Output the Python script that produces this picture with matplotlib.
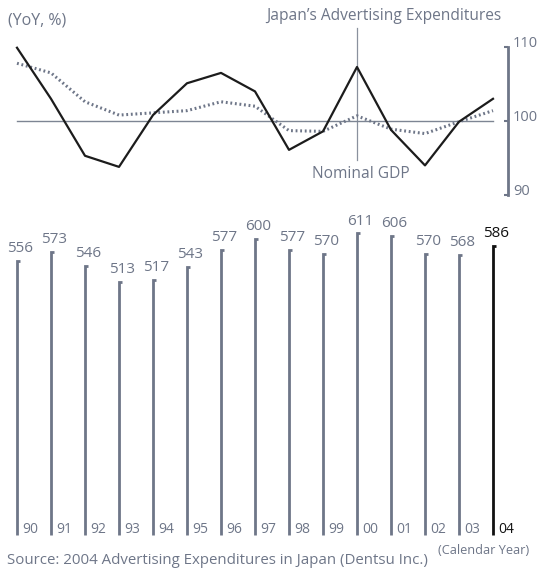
import numpy as np
import matplotlib
matplotlib.use("Agg")
import matplotlib.pyplot as plt

plt.rcParams['font.family'] = ['Open Sans', 'DejaVu Sans']

years = np.arange(1990, 2005)
year_labels = ['90', '91', '92', '93', '94', '95', '96', '97', '98', '99',
               '00', '01', '02', '03', '04']
# advertising expenditures, 100 million yen (x100)
ad_spend = [556, 573, 546, 513, 517, 543, 577, 600, 577, 570,
            611, 606, 570, 568, 586]
# YoY index (previous year = 100)
ad_yoy = [109.9, 103.0, 95.3, 93.8, 100.8, 105.1, 106.5, 104.0, 96.1, 98.6,
          107.3, 98.8, 94.0, 99.9, 103.0]
gdp_yoy = [107.8, 106.5, 102.6, 100.8, 101.1, 101.4, 102.6, 102.0, 98.7, 98.6,
           100.7, 98.9, 98.3, 99.9, 101.4]

grey = '#6e7688'
W, H = 538, 568
fig = plt.figure(figsize=(W / 100, H / 100), dpi=100)

# x scale shared: 1990 at px 17, 34 px per year
x0 = 1990 - 17 / 34
x1 = 1990 + (W - 17) / 34

# ---- top: YoY line chart ----
ax = fig.add_axes([0, 1 - 210 / H, 1, 210 / H])
ax.set_xlim(x0, x1)
ax.set_ylim(100 - 89 / 7.4, 100 + 121 / 7.4)
ax.plot([1990, 2004], [100, 100], color='#7d8593', lw=1.0)
ax.plot(years, gdp_yoy, color=grey, lw=2.2, linestyle=(0, (0.6, 0.9)),
        dash_capstyle='butt')
ax.plot(years, ad_yoy, color='#1c1c1c', lw=1.6)
ax.plot([2000, 2000], [112.6, 94.7], color='#8a919e', lw=0.9, zorder=0)

for s in ['top', 'left', 'bottom']:
    ax.spines[s].set_visible(False)
ax.spines['right'].set_position(('data', 2004.44))
ax.spines['right'].set_bounds(90, 110)
ax.spines['right'].set_color(grey)
ax.spines['right'].set_linewidth(2.0)
ax.set_xticks([])
ax.yaxis.tick_right()
ax.set_yticks([90, 100, 110])
ax.tick_params(axis='y', direction='in', length=3, width=1.5, color=grey,
               labelright=False)
ax.patch.set_alpha(0)
for v in [90, 100, 110]:
    ax.text(2004.59, v - 0.5, str(v), color=grey, fontsize=10.5,
            va='bottom', ha='left')

ax.text(1989.74, 113.0, '(YoY, %)', color=grey, fontsize=11.5, va='baseline')
ax.text(2000.78, 113.6, "Japan\u2019s Advertising Expenditures", color=grey,
        fontsize=11.2, ha='center', va='baseline')
ax.text(2000.12, 92.3, 'Nominal GDP', color=grey, fontsize=11.2,
        ha='center', va='baseline')

# ---- bottom: expenditure bars ----
bx = fig.add_axes([0, 0, 1, (H - 210) / H])
bx.set_xlim(x0, x1)
bx.set_ylim(-33 / 0.4935, 325 / 0.4935)
bx.axis('off')
for i, (yr, v, lab) in enumerate(zip(years, ad_spend, year_labels)):
    c = '#111111' if i == len(years) - 1 else grey
    bx.plot([yr + 0.1, yr, yr], [v, v, 0], color=c, lw=2.0,
            solid_joinstyle='miter', solid_capstyle='butt')
    bx.text(yr + 0.1, v + 10, str(v), color=c, fontsize=11,
            ha='center', va='bottom')
    bx.text(yr + 0.14, -4, lab, color=c, fontsize=10,
            ha='left', va='bottom')

fig.text(7 / W, 1 - 560 / H, 'Source: 2004 Advertising Expenditures in Japan (Dentsu Inc.)',
         color=grey, fontsize=10.8, ha='left', va='center')
fig.text(529 / W, 1 - 550 / H, '(Calendar Year)', color=grey, fontsize=9.2,
         ha='right', va='center')

fig.savefig('out.png', dpi=100)
